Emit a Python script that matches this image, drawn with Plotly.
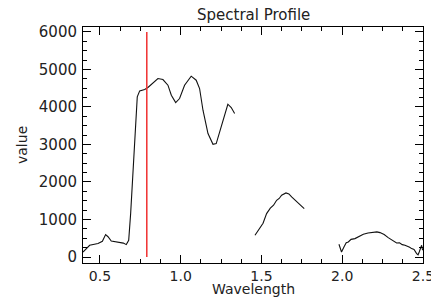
import plotly.graph_objects as go

# Spectral profile, three segments separated by absorption gaps (None = break)
wavelength = [
    0.395, 0.436, 0.488, 0.515, 0.535, 0.550, 0.570, 0.600, 0.622, 0.645, 0.663, 0.678,
    0.690, 0.705, 0.719, 0.731, 0.746, 0.777, 0.797, 0.828, 0.859, 0.890, 0.921,
    0.942, 0.969, 0.993, 1.024, 1.065, 1.096, 1.117, 1.138, 1.169, 1.200, 1.220,
    1.251, 1.272, 1.292, 1.313, 1.334,
    None,
    1.460, 1.490, 1.510, 1.532, 1.555, 1.575, 1.594, 1.610, 1.625, 1.652, 1.670,
    1.687, 1.705, 1.728, 1.745, 1.765,
    None,
    1.980, 1.996, 2.011, 2.025, 2.038, 2.055, 2.079, 2.100, 2.131, 2.160, 2.192,
    2.215, 2.234, 2.260, 2.285, 2.300, 2.320, 2.337, 2.355, 2.372, 2.389, 2.405,
    2.418, 2.430, 2.445, 2.461, 2.470, 2.477, 2.486, 2.492, 2.498,
]
value = [
    133, 312, 357, 420, 597, 540, 427, 410, 400, 370, 330, 445,
    1157, 2312, 3645, 4267, 4427, 4464, 4517, 4640, 4757, 4730, 4579,
    4312, 4117, 4224, 4579, 4819, 4712, 4490, 3912, 3290, 3005, 3024,
    3467, 3733, 4072, 3984, 3824,
    None,
    579, 780, 900, 1157, 1300, 1380, 1512, 1560, 1645, 1707, 1680,
    1600, 1530, 1440, 1370, 1290,
    None,
    339, 133, 267, 380, 400, 470, 490, 540, 605, 640, 667,
    670, 650, 600, 517, 480, 430, 373, 380, 330, 312, 290,
    260, 224, 200, 91, 60, 133, 267, 312, 180,
]

marker_wavelength = [0.79, 0.79]
marker_value = [0, 6000]

x_tick_vals = [0.5, 1.0, 1.5, 2.0, 2.5]
x_tick_text = ["0.5", "1.0", "1.5", "2.0", "2.5"]
y_tick_vals = [0, 1000, 2000, 3000, 4000, 5000, 6000]
y_tick_text = ["0", "1000", "2000", "3000", "4000", "5000", "6000"]

font_family = "DejaVu Sans"
text_color = "#222222"

fig = go.Figure()
fig.add_trace(go.Scatter(
    x=wavelength, y=value, mode="lines",
    line=dict(color="#111111", width=1.1),
    connectgaps=False, showlegend=False, hoverinfo="skip",
))
fig.add_trace(go.Scatter(
    x=marker_wavelength, y=marker_value, mode="lines",
    line=dict(color="#f03030", width=1.5),
    showlegend=False, hoverinfo="skip",
))

axis_common = dict(
    showline=True, linecolor="black", linewidth=1, mirror="ticks",
    ticks="inside", ticklen=8, tickwidth=1, tickcolor="black",
    showgrid=False, zeroline=False, automargin=False,
    ticklabeloverflow="allow",
)

fig.update_xaxes(
    range=[0.395, 2.5005], tickvals=x_tick_vals, ticktext=x_tick_text,
    minor=dict(dtick=0.125, tick0=0.5, ticks="inside", ticklen=4, tickcolor="black", showgrid=False),
    ticklabelstandoff=0,
    tickfont=dict(family=font_family, size=14, color=text_color),
    **axis_common,
)
fig.update_yaxes(
    range=[-160, 6130], tickvals=y_tick_vals, ticktext=y_tick_text,
    minor=dict(dtick=250, tick0=0, ticks="inside", ticklen=4, tickcolor="black", showgrid=False),
    ticklabelstandoff=2,
    tickfont=dict(family=font_family, size=15, color=text_color),
    **axis_common,
)

fig.update_layout(
    width=431, height=297,
    margin=dict(l=83, r=8, t=27, b=34, pad=0, autoexpand=False),
    paper_bgcolor="white", plot_bgcolor="white",
    annotations=[
        dict(text="Spectral Profile", xref="paper", yref="paper", x=0.5, y=(263 - 15) / 236,
             xanchor="center", yanchor="middle", showarrow=False,
             font=dict(family=font_family, size=15, color=text_color)),
        dict(text="Wavelength", xref="paper", yref="paper", x=0.5, y=(263 - 289) / 236,
             xanchor="center", yanchor="middle", showarrow=False,
             font=dict(family=font_family, size=14, color=text_color)),
        dict(text="value", xref="paper", yref="paper", x=(22 - 83) / 340, y=0.5,
             xanchor="center", yanchor="middle", showarrow=False, textangle=-90,
             font=dict(family=font_family, size=14, color=text_color)),
    ],
)

fig.write_html("out.html", config={"displayModeBar": False, "staticPlot": True},
               post_script="document.body.style.margin='0';document.body.style.overflow='hidden';")
